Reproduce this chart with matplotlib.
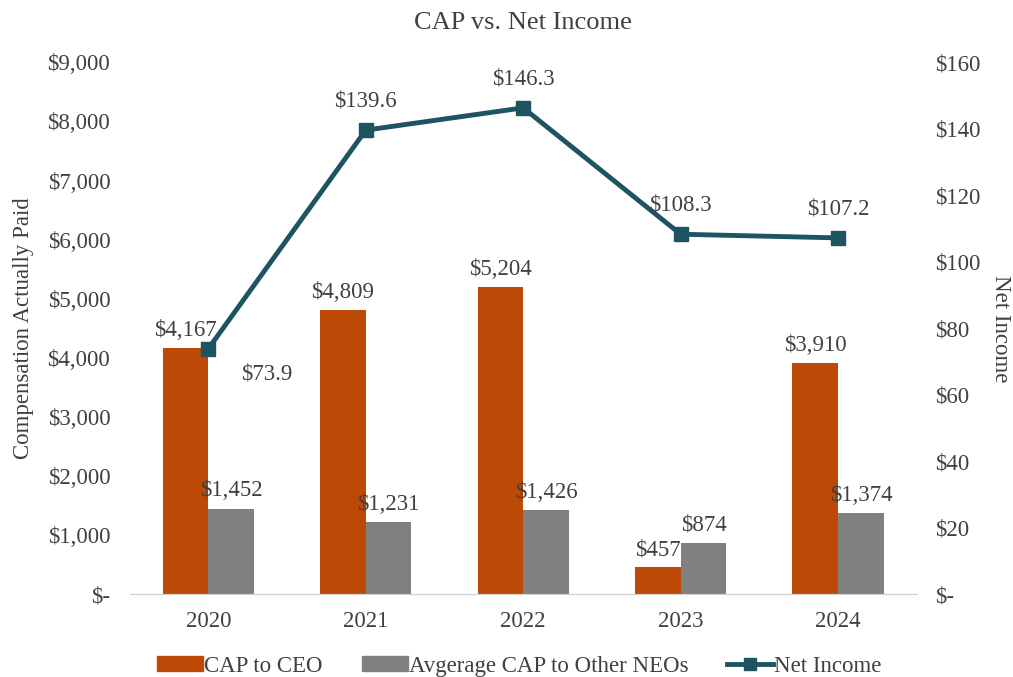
import matplotlib.pyplot as plt
import numpy as np
from matplotlib.lines import Line2D
from matplotlib.patches import Patch

plt.rcParams['font.family'] = ['Liberation Serif', 'DejaVu Serif']

years = ["2020", "2021", "2022", "2023", "2024"]
cap_ceo = [4167, 4809, 5204, 457, 3910]
cap_neo = [1452, 1231, 1426, 874, 1374]
net_income = [73.9, 139.6, 146.3, 108.3, 107.2]

orange = "#BC4A06"
grey = "#808080"
teal = "#1D5462"
txt = "#404040"
fs = 16.5

fig = plt.figure(figsize=(10.13, 6.77), dpi=100)
ax = fig.add_axes([0.128, 0.122, 0.777, 0.786])
ax2 = ax.twinx()

x = np.arange(len(years))
w = 0.29
ax.bar(x - w / 2, cap_ceo, w, color=orange)
ax.bar(x + w / 2, cap_neo, w, color=grey)

for xi, v in zip(x, cap_ceo):
    ax.text(xi - w / 2, v + 120, f"${v:,}", ha="center", va="bottom",
            fontsize=fs, color=txt)
for xi, v in zip(x, cap_neo):
    ax.text(xi + w / 2, v + 120, f"${v:,}", ha="center", va="bottom",
            fontsize=fs, color=txt)

ax2.plot(x, net_income, color=teal, lw=3.5, marker="s", markersize=10)
for i, v in enumerate(net_income):
    if i == 0:
        ax2.text(x[i] + 0.37, v - 4.5, f"${v}", ha="center", va="top",
                 fontsize=fs, color=txt)
    else:
        ax2.text(x[i], v + 5.5, f"${v}", ha="center", va="bottom",
                 fontsize=fs, color=txt)

ax.set_xlim(-0.5, 4.5)
ax.set_ylim(0, 9000)
ax2.set_ylim(0, 160)
ax.set_yticks(range(0, 9001, 1000))
ax.set_yticklabels(["$-"] + [f"${v:,}" for v in range(1000, 9001, 1000)])
ax2.set_yticks(range(0, 161, 20))
ax2.set_yticklabels(["$-"] + [f"${v}" for v in range(20, 161, 20)])
ax.set_xticks(x)
ax.set_xticklabels(years)

for a in (ax, ax2):
    for s in ("top", "left", "right"):
        a.spines[s].set_visible(False)
    a.spines["bottom"].set_color("#D0D0D0")
    a.tick_params(length=0, labelsize=fs, colors=txt)
ax.tick_params(axis="y", pad=14)
ax2.tick_params(axis="y", pad=13)
ax.tick_params(axis="x", pad=12)

ax.set_ylabel("Compensation Actually Paid", fontsize=fs, color=txt, labelpad=10)
ax2.set_ylabel("Net Income", fontsize=fs, color=txt, rotation=270, labelpad=22)
ax.set_title("CAP vs. Net Income", fontsize=19, color=txt, pad=24)

handles = [Patch(color=orange, label="CAP to CEO"),
           Patch(color=grey, label="Avgerage CAP to Other NEOs"),
           Line2D([0], [0], color=teal, lw=3.5, marker="s", markersize=9,
                  label="Net Income")]
leg = fig.legend(handles=handles, loc="lower center", ncol=3, frameon=False,
                 fontsize=fs, bbox_to_anchor=(0.513, -0.03), handlelength=2.0,
                 handleheight=0.6, handletextpad=0.05, columnspacing=1.7)
for t in leg.get_texts():
    t.set_color(txt)

fig.savefig("out.png", dpi=100)
